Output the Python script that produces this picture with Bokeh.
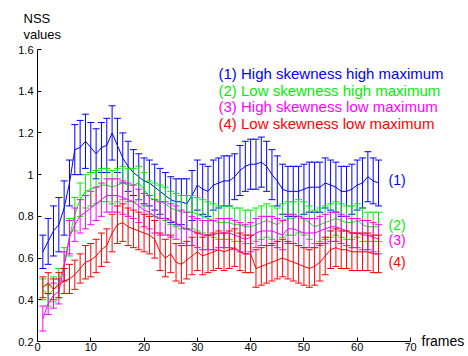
from bokeh.plotting import figure
from bokeh.models import Range1d, Label, ColumnDataSource, FixedTicker
from bokeh.embed import file_html
from bokeh.resources import INLINE

frames = list(range(1, 65))

blue_mean = [0.63, 0.68, 0.73, 0.76, 0.84, 0.96, 1.12, 1.13, 1.16, 1.13,
             1.10, 1.13, 1.14, 1.20, 1.14, 1.08, 1.04, 1.01, 0.99, 0.97,
             0.96, 0.94, 0.92, 0.90, 0.88, 0.87, 0.87, 0.86, 0.90, 0.95,
             0.93, 0.92, 0.95, 0.96, 0.97, 0.97, 0.99, 1.02, 1.04, 1.05,
             1.05, 1.06, 1.04, 1.00, 0.97, 0.93, 0.92, 0.92, 0.92, 0.93,
             0.94, 0.94, 0.94, 0.96, 0.95, 0.94, 0.92, 0.92, 0.93, 0.95,
             0.96, 0.99, 0.97, 0.96]
blue_err = [0.08, 0.11, 0.12, 0.13, 0.13, 0.11, 0.12, 0.13, 0.13, 0.12,
            0.12, 0.12, 0.13, 0.13, 0.13, 0.12, 0.12, 0.11, 0.11, 0.11,
            0.11, 0.11, 0.11, 0.11, 0.11, 0.11, 0.11, 0.12, 0.12, 0.12,
            0.12, 0.12, 0.12, 0.12, 0.12, 0.12, 0.11, 0.12, 0.12, 0.12,
            0.12, 0.12, 0.12, 0.12, 0.12, 0.12, 0.12, 0.12, 0.12, 0.12,
            0.12, 0.12, 0.12, 0.12, 0.12, 0.12, 0.12, 0.12, 0.12, 0.12,
            0.12, 0.12, 0.11, 0.11]

green_mean = [0.45, 0.42, 0.45, 0.48, 0.57, 0.70, 0.81, 0.88, 0.92, 0.93,
              0.94, 0.95, 0.95, 0.94, 0.95, 0.96, 0.95, 0.95, 0.96, 0.93,
              0.89, 0.88, 0.87, 0.86, 0.84, 0.83, 0.82, 0.82, 0.82, 0.81,
              0.80, 0.79, 0.78, 0.77, 0.77, 0.77, 0.76, 0.76, 0.75, 0.75,
              0.76, 0.77, 0.78, 0.77, 0.76, 0.78, 0.79, 0.79, 0.80, 0.79,
              0.77, 0.75, 0.76, 0.77, 0.78, 0.79, 0.78, 0.77, 0.77, 0.78,
              0.76, 0.75, 0.75, 0.75]
green_err = [0.05, 0.05, 0.06, 0.07, 0.08, 0.09, 0.08, 0.08, 0.08, 0.08,
             0.08, 0.08, 0.08, 0.08, 0.08, 0.08, 0.08, 0.08, 0.08, 0.08,
             0.08, 0.08, 0.08, 0.08, 0.08, 0.08, 0.08, 0.08, 0.08, 0.08,
             0.08, 0.08, 0.08, 0.08, 0.08, 0.08, 0.08, 0.08, 0.08, 0.08,
             0.08, 0.08, 0.08, 0.08, 0.08, 0.08, 0.08, 0.08, 0.08, 0.08,
             0.08, 0.08, 0.08, 0.08, 0.08, 0.08, 0.08, 0.08, 0.08, 0.08,
             0.08, 0.07, 0.07, 0.07]

magenta_mean = [0.31, 0.38, 0.42, 0.44, 0.56, 0.70, 0.76, 0.80, 0.82, 0.84,
                0.86, 0.88, 0.90, 0.90, 0.90, 0.89, 0.88, 0.87, 0.85, 0.83,
                0.82, 0.80, 0.79, 0.79, 0.78, 0.77, 0.75, 0.74, 0.73, 0.72,
                0.71, 0.71, 0.71, 0.72, 0.72, 0.72, 0.71, 0.70, 0.69, 0.70,
                0.72, 0.73, 0.73, 0.73, 0.72, 0.71, 0.74, 0.74, 0.73, 0.72,
                0.72, 0.72, 0.73, 0.74, 0.75, 0.75, 0.74, 0.73, 0.72, 0.72,
                0.71, 0.71, 0.70, 0.69]
magenta_err = [0.06, 0.05, 0.06, 0.06, 0.07, 0.08, 0.08, 0.08, 0.08, 0.08,
               0.08, 0.08, 0.08, 0.08, 0.08, 0.08, 0.08, 0.08, 0.08, 0.08,
               0.08, 0.08, 0.08, 0.08, 0.08, 0.08, 0.08, 0.08, 0.07, 0.07,
               0.07, 0.07, 0.07, 0.07, 0.07, 0.07, 0.07, 0.07, 0.07, 0.07,
               0.07, 0.07, 0.07, 0.07, 0.07, 0.07, 0.07, 0.07, 0.07, 0.07,
               0.07, 0.07, 0.07, 0.07, 0.07, 0.07, 0.07, 0.07, 0.07, 0.07,
               0.07, 0.07, 0.07, 0.07]

red_mean = [0.46, 0.48, 0.45, 0.47, 0.49, 0.50, 0.52, 0.55, 0.58, 0.59,
            0.61, 0.64, 0.66, 0.72, 0.76, 0.77, 0.75, 0.74, 0.73, 0.72,
            0.71, 0.69, 0.63, 0.60, 0.62, 0.58, 0.57, 0.59, 0.61, 0.63,
            0.61, 0.62, 0.63, 0.64, 0.63, 0.64, 0.65, 0.63, 0.62, 0.62,
            0.55, 0.56, 0.57, 0.58, 0.59, 0.60, 0.59, 0.58, 0.57, 0.56,
            0.55, 0.56, 0.58, 0.61, 0.64, 0.65, 0.64, 0.64, 0.63, 0.63,
            0.63, 0.63, 0.62, 0.62]
red_err = [0.05, 0.05, 0.05, 0.06, 0.06, 0.07, 0.07, 0.07, 0.08, 0.08,
           0.08, 0.08, 0.08, 0.09, 0.09, 0.09, 0.09, 0.09, 0.09, 0.09,
           0.09, 0.09, 0.09, 0.09, 0.09, 0.09, 0.09, 0.09, 0.09, 0.09,
           0.09, 0.09, 0.09, 0.09, 0.09, 0.09, 0.09, 0.09, 0.09, 0.09,
           0.09, 0.09, 0.09, 0.09, 0.09, 0.09, 0.09, 0.09, 0.09, 0.09,
           0.09, 0.09, 0.09, 0.09, 0.09, 0.09, 0.09, 0.09, 0.09, 0.09,
           0.09, 0.09, 0.09, 0.09]

series_names = ["(1) High skewness high maximum",
                "(2) Low skewness high maximum",
                "(3) High skewness low maximum",
                "(4) Low skewness low maximum"]
end_labels = ["(1)", "(2)", "(3)", "(4)"]
colors = ["#0000ff", "#00ee00", "#ff00ff", "#ff0000"]

x_ticks = [0, 10, 20, 30, 40, 50, 60, 70]
x_tick_labels = ["0", "10", "20", "30", "40", "50", "60", "70"]
y_ticks = [0.2, 0.4, 0.6, 0.8, 1.0, 1.2, 1.4, 1.6]
y_tick_labels = ["0.2", "0.4", "0.6", "0.8", "1", "1.2", "1.4", "1.6"]

FONT = "Liberation Sans"

# canvas geometry (pixels inside the figure)
W, H = 467, 355
AX_LEFT, AX_RIGHT = 37, 410     # where x = 0 and x = 70 fall
AX_TOP, AX_BOTTOM = 49, 341     # where y = 1.6 and y = 0.2 fall
X0, X1 = x_ticks[0], x_ticks[-1]
Y0, Y1 = y_ticks[0], y_ticks[-1]
sx = (AX_RIGHT - AX_LEFT) / (X1 - X0)
sy = (AX_BOTTOM - AX_TOP) / (Y1 - Y0)


def px_x(px):
    return X0 + (px - AX_LEFT) / sx


def px_y(py):
    return Y1 - (py - AX_TOP) / sy


p = figure(width=W, height=H, output_backend="svg", toolbar_location=None,
           x_range=Range1d(px_x(0), px_x(W)), y_range=Range1d(px_y(H), px_y(0)),
           min_border=0, min_border_left=0, min_border_right=0,
           min_border_top=0, min_border_bottom=0)
p.outline_line_color = None
p.xgrid.visible = False
p.ygrid.visible = False
p.background_fill_color = "white"
p.border_fill_color = "white"

p.xaxis.fixed_location = Y0
p.yaxis.fixed_location = X0
p.xaxis.bounds = (X0, X1)
p.yaxis.bounds = (Y0, Y1)

for ax, ticks, labels in ((p.xaxis[0], x_ticks, x_tick_labels),
                          (p.yaxis[0], y_ticks, y_tick_labels)):
    ax.ticker = FixedTicker(ticks=ticks)
    ax.major_label_overrides = dict(zip(ticks, labels))
    ax.major_tick_in = 4
    ax.major_tick_out = 0
    ax.minor_tick_line_color = None
    ax.axis_line_color = "#000000"
    ax.major_tick_line_color = "#000000"
    ax.major_label_text_font = FONT
    ax.major_label_text_font_size = "11px"
    ax.major_label_text_color = "#000000"
p.xaxis.major_label_standoff = 1
p.yaxis.major_label_standoff = 4

cap = 0.65
all_series = [(blue_mean, blue_err), (green_mean, green_err),
              (magenta_mean, magenta_err), (red_mean, red_err)]
for (mean, err), col in zip(all_series, colors):
    src = ColumnDataSource(dict(
        x=frames, y=mean,
        lo=[m - e for m, e in zip(mean, err)],
        hi=[m + e for m, e in zip(mean, err)],
        xl=[f - cap for f in frames],
        xr=[f + cap for f in frames]))
    p.segment(x0="x", y0="lo", x1="x", y1="hi", source=src, line_color=col, line_width=1)
    p.segment(x0="xl", y0="hi", x1="xr", y1="hi", source=src, line_color=col, line_width=1)
    p.segment(x0="xl", y0="lo", x1="xr", y1="lo", source=src, line_color=col, line_width=1)
    p.line(x="x", y="y", source=src, line_color=col, line_width=1)

# legend text block (baselines, in figure pixels)
legend_py = [73, 89.5, 106, 123]
for txt, col, py in zip(series_names, colors, legend_py):
    p.add_layout(Label(x=px_x(218), y=px_y(py), text=txt, text_color=col,
                       text_font=FONT, text_font_size="15px",
                       text_baseline="alphabetic"))

# end-of-line labels (centres, in figure pixels)
end_py = [179, 224, 239, 261]
for txt, col, py in zip(end_labels, colors, end_py):
    p.add_layout(Label(x=px_x(388), y=px_y(py), text=txt, text_color=col,
                       text_font=FONT, text_font_size="14px",
                       text_baseline="middle"))

p.add_layout(Label(x=px_x(23), y=px_y(18), text="NSS", text_color="#000000",
                   text_font=FONT, text_font_size="13px", text_baseline="middle"))
p.add_layout(Label(x=px_x(23), y=px_y(34), text="values", text_color="#000000",
                   text_font=FONT, text_font_size="13px", text_baseline="middle"))
p.add_layout(Label(x=px_x(421), y=px_y(AX_BOTTOM - 1), text="frames", text_color="#000000",
                   text_font=FONT, text_font_size="14px", text_baseline="middle"))

open("out.html", "w").write(file_html(p, INLINE))
